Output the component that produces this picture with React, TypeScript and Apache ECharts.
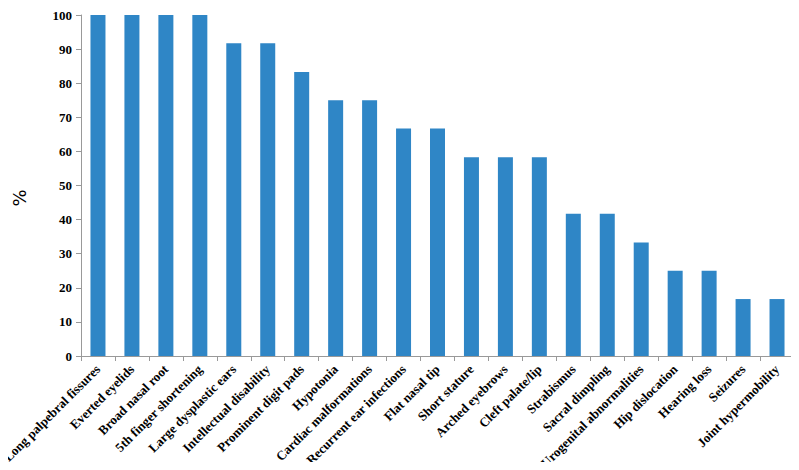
import React, { useEffect, useRef } from "react";
import * as echarts from "echarts";

const categories = [
  "Long palpebral fissures",
  "Everted eyelids",
  "Broad nasal root",
  "5th finger shortening",
  "Large dysplastic ears",
  "Intellectual disability",
  "Prominent digit pads",
  "Hypotonia",
  "Cardiac malformations",
  "Recurrent ear infections",
  "Flat nasal tip",
  "Short stature",
  "Arched eyebrows",
  "Cleft palate/lip",
  "Strabismus",
  "Sacral dimpling",
  "Urogenital abnormalities",
  "Hip dislocation",
  "Hearing loss",
  "Seizures",
  "Joint hypermobility",
];

const percentages = [
  100, 100, 100, 100, 91.7, 91.7, 83.3, 75, 75, 66.7, 66.7, 58.3, 58.3, 58.3,
  41.7, 41.7, 33.3, 25, 25, 16.7, 16.7,
];

const yAxisTitle = "%";

export default function App() {
  const ref = useRef<HTMLDivElement>(null);
  useEffect(() => {
    if (!ref.current) return;
    const chart = echarts.init(ref.current, null, { renderer: "svg" });
    const serif = "'Liberation Serif', 'Times New Roman', serif";
    chart.setOption({
      animation: false,
      grid: {
        left: 81,
        right: 5,
        top: 15,
        bottom: 114,
        containLabel: false,
        outerBoundsMode: "none",
      },
      graphic: [
        {
          type: "text",
          x: 19.5,
          y: 198,
          rotation: Math.PI / 2,
          style: {
            text: yAxisTitle,
            fill: "#000",
            fontSize: 18,
            fontFamily: "'DejaVu Sans', sans-serif",
            align: "center",
            verticalAlign: "middle",
          },
        },
      ],
      xAxis: {
        type: "category",
        data: categories,
        axisLine: { lineStyle: { color: "#999", width: 1 } },
        axisTick: { show: true, alignWithLabel: false, length: 5, lineStyle: { color: "#999" } },
        axisLabel: {
          interval: 0,
          rotate: 45,
          color: "#000",
          fontFamily: serif,
          fontWeight: "bold",
          fontSize: 13,
          margin: 11,
        },
      },
      yAxis: {
        type: "value",
        min: 0,
        max: 100,
        interval: 10,
        axisLine: { show: true, lineStyle: { color: "#999", width: 1 } },
        axisTick: { show: true, length: 5, lineStyle: { color: "#999" } },
        splitLine: { show: false },
        axisLabel: {
          color: "#000",
          fontFamily: serif,
          fontWeight: "bold",
          fontSize: 13,
          margin: 9,
        },
      },
      series: [
        {
          type: "bar",
          data: percentages,
          barWidth: 15,
          itemStyle: { color: "#2f86c6" },
        },
      ],
    });
    return () => chart.dispose();
  }, []);
  return (
    <div
      ref={ref}
      style={{ margin: -8, width: 799, height: 470, background: "#fff" }}
    />
  );
}
